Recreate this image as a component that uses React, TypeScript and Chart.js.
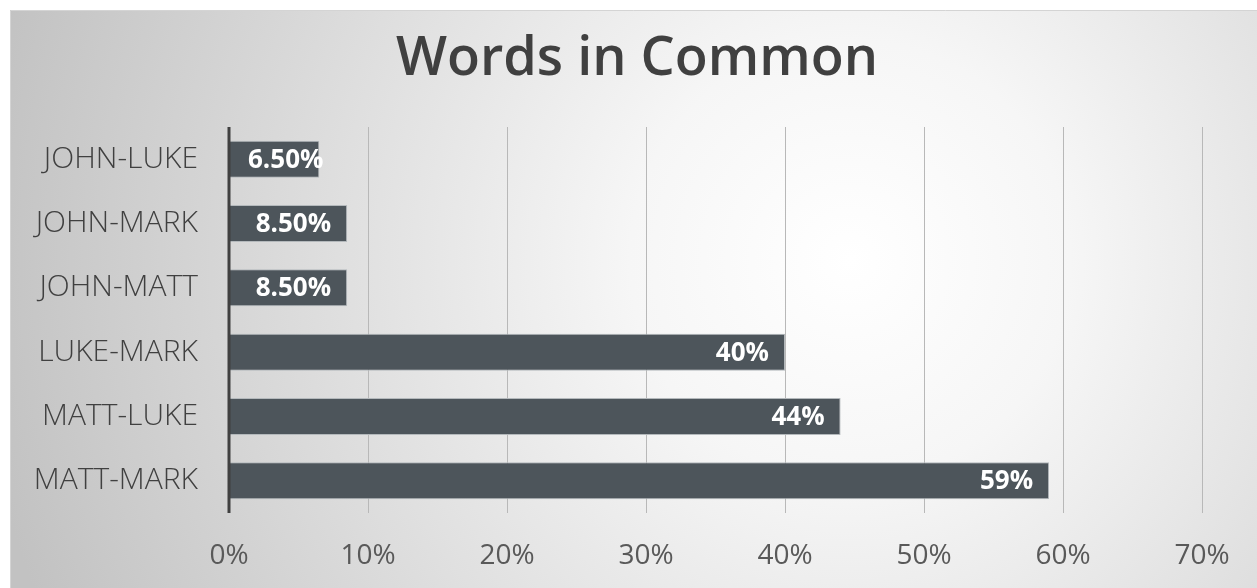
import React, { useEffect, useRef } from "react";
import { Chart, registerables } from "chart.js";

Chart.register(...registerables);

const categories = ["JOHN-LUKE", "JOHN-MARK", "JOHN-MATT", "LUKE-MARK", "MATT-LUKE", "MATT-MARK"];
const values = [6.5, 8.5, 8.5, 40, 44, 59];
const valueLabels = ["6.50%", "8.50%", "8.50%", "40%", "44%", "59%"];
const xTicks = [0, 10, 20, 30, 40, 50, 60, 70];
const title = "Words in Common";

const W = 1257;
const H = 588;

const bgPlugin = {
  id: "bg",
  beforeDraw(chart: any) {
    const ctx = chart.ctx;
    ctx.save();
    ctx.fillStyle = "#ffffff";
    ctx.fillRect(0, 0, W, H);
    const g = ctx.createRadialGradient(850, 260, 0, 850, 260, 880);
    g.addColorStop(0, "#ffffff");
    g.addColorStop(0.25, "#f6f6f6");
    g.addColorStop(1, "#c2c2c2");
    ctx.fillStyle = g;
    ctx.fillRect(10, 10, W - 10, H - 10);
    ctx.strokeStyle = "#d4d4d4";
    ctx.lineWidth = 1;
    ctx.beginPath();
    ctx.moveTo(10.5, H);
    ctx.lineTo(10.5, 10.5);
    ctx.lineTo(W, 10.5);
    ctx.stroke();
    // title
    ctx.fillStyle = "#404040";
    ctx.font = "600 54px 'Open Sans'";
    ctx.textAlign = "center";
    ctx.textBaseline = "middle";
    ctx.fillText(title, 637, 60);
    ctx.restore();
  },
};

const labelPlugin = {
  id: "barLabels",
  afterDatasetsDraw(chart: any) {
    const ctx = chart.ctx;
    const meta = chart.getDatasetMeta(0);
    const base = chart.scales.x.getPixelForValue(0);
    ctx.save();
    ctx.font = "700 26px 'Open Sans'";
    ctx.fillStyle = "#ffffff";
    ctx.textAlign = "right";
    ctx.textBaseline = "middle";
    meta.data.forEach((bar: any, i: number) => {
      const txt = valueLabels[i];
      const tw = ctx.measureText(txt).width;
      const right = Math.max(bar.x - 16, base + 19 + tw);
      ctx.fillText(txt, right, bar.y + 1);
    });
    ctx.restore();
  },
};

const axisLinePlugin = {
  id: "axisLine",
  afterDatasetsDraw(chart: any) {
    const ctx = chart.ctx;
    const a = chart.chartArea;
    const x = chart.scales.x.getPixelForValue(0);
    ctx.save();
    ctx.strokeStyle = "#404040";
    ctx.lineWidth = 3;
    ctx.beginPath();
    ctx.moveTo(x, a.top);
    ctx.lineTo(x, a.bottom);
    ctx.stroke();
    ctx.restore();
  },
};

export default function App() {
  const ref = useRef<HTMLCanvasElement>(null);
  useEffect(() => {
    if (!ref.current) return;
    const chart = new Chart(ref.current, {
      type: "bar",
      data: {
        labels: categories,
        datasets: [
          {
            data: values,
            backgroundColor: "#4d555b",
            borderColor: "#b4b9bc",
            borderWidth: 1,
            barPercentage: 0.575,
            categoryPercentage: 1,
          },
        ],
      },
      options: {
        indexAxis: "y",
        responsive: false,
        animation: false,
        maintainAspectRatio: false,
        layout: { padding: { left: 0, right: 55, top: 127, bottom: 0 } },
        plugins: { legend: { display: false }, tooltip: { enabled: false }, title: { display: false } },
        scales: {
          x: {
            min: 0,
            max: 70,
            afterBuildTicks: (s: any) => {
              s.ticks = xTicks.map((v) => ({ value: v }));
            },
            afterFit: (s: any) => {
              s.height = 75;
            },
            grid: { color: "#b8b8b8", lineWidth: 1, drawTicks: false },
            border: { display: false },
            ticks: {
              padding: 26,
              color: "#595959",
              font: { family: "'Open Sans'", size: 28 },
              callback: (v: any) => v + "%",
            },
          },
          y: {
            afterFit: (s: any) => {
              s.width = 229;
            },
            grid: { display: false, drawTicks: false },
            border: { display: false },
            ticks: {
              padding: 31,
              color: "#404040",
              font: { family: "'Open Sans'", size: 30, weight: 300 as any },
            },
          },
        },
      },
      plugins: [bgPlugin, labelPlugin, axisLinePlugin],
    });
    return () => chart.destroy();
  }, []);
  return (
    <div style={{ position: "fixed", left: 0, top: 0, width: W, height: H }}>
      <canvas ref={ref} width={W} height={H} style={{ width: W, height: H, display: "block" }} />
    </div>
  );
}
